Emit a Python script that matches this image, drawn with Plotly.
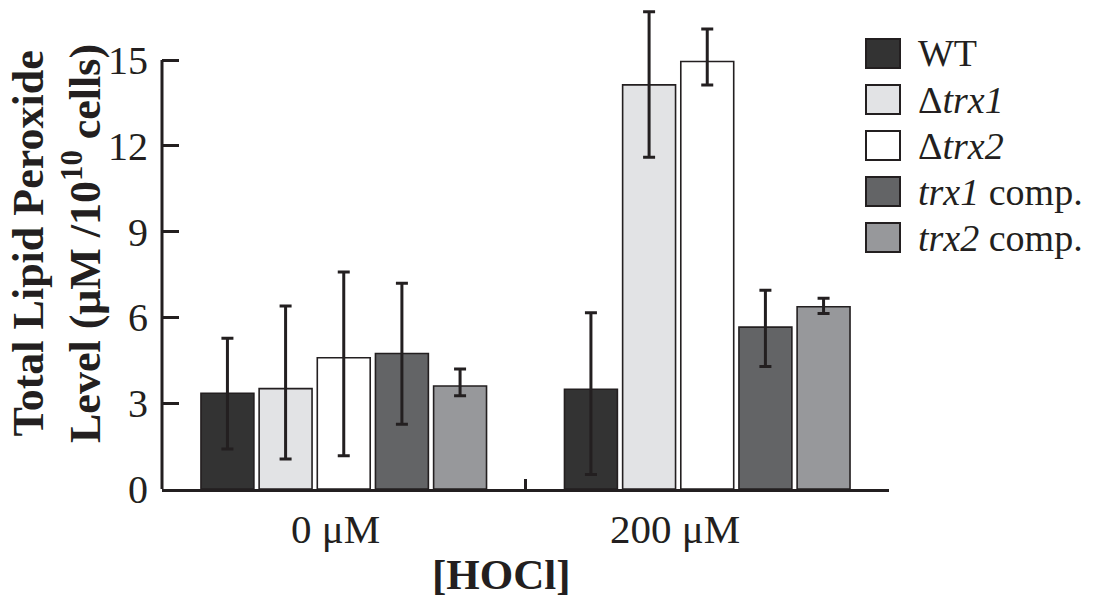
import plotly.graph_objects as go

# ---------------- data ----------------
categories = ["0 μM", "200 μM"]
series_names = ["WT", "Δ<i>trx1</i>", "Δ<i>trx2</i>", "<i>trx1</i> comp.", "<i>trx2</i> comp."]

wt_vals = [3.35, 3.49]
wt_plus = [1.92, 2.67]
wt_minus = [1.95, 2.98]

dtrx1_vals = [3.51, 14.13]
dtrx1_plus = [2.89, 2.56]
dtrx1_minus = [2.46, 2.53]

dtrx2_vals = [4.59, 14.95]
dtrx2_plus = [3.00, 1.13]
dtrx2_minus = [3.43, 0.82]

trx1c_vals = [4.74, 5.66]
trx1c_plus = [2.45, 1.29]
trx1c_minus = [2.48, 1.38]

trx2c_vals = [3.60, 6.37]
trx2c_plus = [0.60, 0.30]
trx2c_minus = [0.34, 0.23]

y_tick_vals = [0, 3, 6, 9, 12, 15]
y_tick_text = ["0", "3", "6", "9", "12", "15"]

# ---------------- style ----------------
colors = ["#333333", "#e2e3e5", "#ffffff", "#636466", "#97989b"]
ink = "#231f20"
serif = "Liberation Serif, Times New Roman, serif"

W, H = 1096, 598
ML, MR, MT, MB = 162, 207, 5, 109
PW = W - ML - MR
PH = H - MT - MB


def px(xp):
    return (xp - ML) / PW


def py(yp):
    return (H - MB - yp) / PH


values = [wt_vals, dtrx1_vals, dtrx2_vals, trx1c_vals, trx2c_vals]
pluses = [wt_plus, dtrx1_plus, dtrx2_plus, trx1c_plus, trx2c_plus]
minuses = [wt_minus, dtrx1_minus, dtrx2_minus, trx1c_minus, trx2c_minus]

fig = go.Figure()
for name, vals, plus, minus, col in zip(series_names, values, pluses, minuses, colors):
    fig.add_trace(go.Bar(
        x=categories, y=vals, name=name,
        marker=dict(color=col, line=dict(color=ink, width=1.6)),
        error_y=dict(type="data", symmetric=False, array=plus, arrayminus=minus,
                     thickness=3, width=6, color=ink),
        showlegend=False,
    ))

y_top = PH / 28.6

fig.update_layout(
    width=W, height=H,
    margin=dict(l=ML, r=MR, t=MT, b=MB, pad=0),
    paper_bgcolor="white", plot_bgcolor="white",
    barmode="group", bargap=0.2, bargroupgap=0.09,
    font=dict(family=serif, color=ink),
    xaxis=dict(
        type="category", range=[-0.5, 1.5],
        showline=True, linecolor=ink, linewidth=3,
        ticks="inside", tickson="boundaries", ticklen=10, tickwidth=3, tickcolor=ink,
        showticklabels=False, showgrid=False, zeroline=False,
    ),
    yaxis=dict(
        range=[0, y_top], showline=False,
        tickvals=y_tick_vals, ticktext=y_tick_text,
        ticks="inside", ticklen=17, tickwidth=3, tickcolor=ink,
        tickfont=dict(family=serif, size=40, color=ink),
        ticklabelstandoff=13,
        showgrid=False, zeroline=False,
    ),
)

# y axis line (stops at the top tick)
fig.add_shape(type="line", xref="paper", yref="y", x0=0, x1=0, y0=0, y1=15,
              line=dict(color=ink, width=3))

# category labels
label_x = [335, 675]
for lab, xp in zip(categories, label_x):
    fig.add_annotation(text=lab, xref="paper", yref="paper", x=px(xp), y=py(529),
                       xanchor="center", yanchor="middle", showarrow=False,
                       font=dict(family=serif, size=41, color=ink))

# axis titles
fig.add_annotation(text="<b>[HOCl]</b>", xref="paper", yref="paper", x=px(501), y=py(574),
                   xanchor="center", yanchor="middle", showarrow=False,
                   font=dict(family=serif, size=43, color=ink))
fig.add_annotation(text="<b>Total Lipid Peroxide<br>Level (μM /10<sup>10</sup> cells)</b>",
                   xref="paper", yref="paper", x=px(57), y=py(244), textangle=-90,
                   xanchor="center", yanchor="middle", showarrow=False,
                   font=dict(family=serif, size=44, color=ink))

# legend (drawn manually to match large swatches)
row_top = [39, 85, 131, 177, 223]
for name, col, top in zip(series_names, colors, row_top):
    fig.add_shape(type="rect", xref="paper", yref="paper",
                  x0=px(866), x1=px(900), y0=py(top + 29), y1=py(top),
                  fillcolor=col, line=dict(color=ink, width=2))
    fig.add_annotation(text=name, xref="paper", yref="paper", x=px(916), y=py(top + 14.5),
                       xanchor="left", yanchor="middle", showarrow=False,
                       font=dict(family=serif, size=38, color=ink))

fig.write_html("out.html")
